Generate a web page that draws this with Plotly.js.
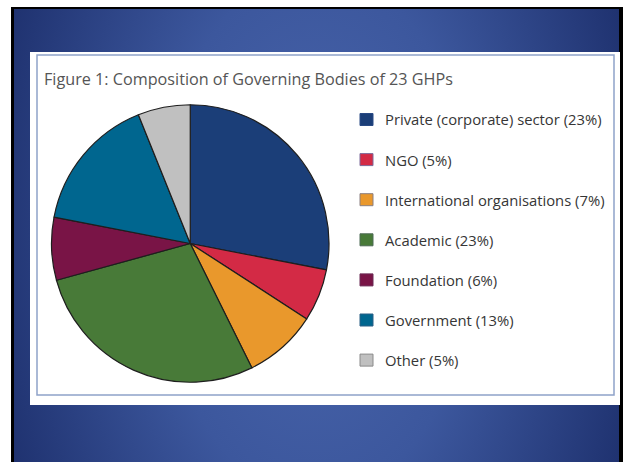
<!DOCTYPE html>
<html>
<head>
<meta charset="utf-8">
<script src="https://cdn.plot.ly/plotly-3.0.1.min.js"></script>
<style>
  html, body { margin: 0; padding: 0; background: #ffffff; }
  #frame {
    position: absolute; left: 11px; top: 7px; width: 612px; height: 455px;
    background: #000000;
  }
  #slide {
    position: absolute; left: 14px; top: 9px; width: 605px; height: 453px;
    background: radial-gradient(ellipse 58% 130% at 50% 50%, #4a66ad 0%, #3c579d 45%, #1c2e6b 100%);
  }
  #chart { position: absolute; left: 0; top: 0; width: 623px; height: 462px; }
</style>
</head>
<body>
<div id="frame"></div>
<div id="slide"></div>
<div id="chart"></div>
<script>
// Governing body composition of the 23 global health partnerships
const categories = [
  'Private (corporate) sector',
  'NGO',
  'International organisations',
  'Academic',
  'Foundation',
  'Government',
  'Other'
];
const shares = [23, 5, 7, 23, 6, 13, 5];
const colors = ['#1b3e78', '#d32a45', '#e9982c', '#487a38', '#791446', '#00668f', '#c0c0c0'];
const swatchEdges = ['#2a4a85', '#7d6a9a', '#8a7f80', '#4d6a55', '#6b2a55', '#2a5f85', '#8a8a8a'];
const titleText = 'Figure 1: Composition of Governing Bodies of 23 GHPs';

const W = 623, H = 462;
const px = x => x / W;
const py = y => 1 - y / H;

const shapes = [
  // white chart panel
  { type: 'rect', xref: 'paper', yref: 'paper', x0: px(30), x1: px(620), y0: py(405), y1: py(52),
    fillcolor: '#ffffff', line: { width: 0 }, layer: 'below' },
  // thin panel border
  { type: 'rect', xref: 'paper', yref: 'paper', x0: px(37), x1: px(614), y0: py(395), y1: py(55),
    fillcolor: 'rgba(0,0,0,0)', line: { color: '#8fa2c9', width: 1.5 }, layer: 'below' }
];

const annotations = [
  { text: titleText, xref: 'paper', yref: 'paper', x: px(42), y: py(79.5),
    xanchor: 'left', yanchor: 'middle', showarrow: false,
    font: { family: 'Open Sans, sans-serif', size: 16.2, color: '#555555' } }
];

// hand-drawn key: a swatch and "label (n%)" per category, rows 40px apart
categories.forEach((name, i) => {
  const yc = 119.5 + i * 40.1;
  shapes.push({ type: 'rect', xref: 'paper', yref: 'paper',
    x0: px(360), x1: px(373), y0: py(yc + 6), y1: py(yc - 6),
    fillcolor: colors[i], line: { color: swatchEdges[i], width: 1 } });
  annotations.push({ text: name + ' (' + shares[i] + '%)', xref: 'paper', yref: 'paper',
    x: px(383), y: py(yc), xanchor: 'left', yanchor: 'middle', showarrow: false,
    font: { family: 'Open Sans, sans-serif', size: 14.8, color: '#363636' } });
});

const trace = {
  type: 'pie',
  labels: categories,
  values: shares,
  sort: false,
  direction: 'clockwise',
  rotation: 0,
  textinfo: 'none',
  hoverinfo: 'label+percent',
  marker: { colors: colors, line: { color: '#1e1e1e', width: 1.2 } },
  domain: { x: [px(51.5), px(329)], y: [py(383), py(104)] },
  showlegend: false
};

const layout = {
  width: W, height: H,
  margin: { l: 0, r: 0, t: 0, b: 0 },
  paper_bgcolor: 'rgba(0,0,0,0)',
  plot_bgcolor: 'rgba(0,0,0,0)',
  showlegend: false,
  shapes: shapes,
  annotations: annotations
};

Plotly.newPlot('chart', [trace], layout, { displayModeBar: false, staticPlot: true });
</script>
</body>
</html>
